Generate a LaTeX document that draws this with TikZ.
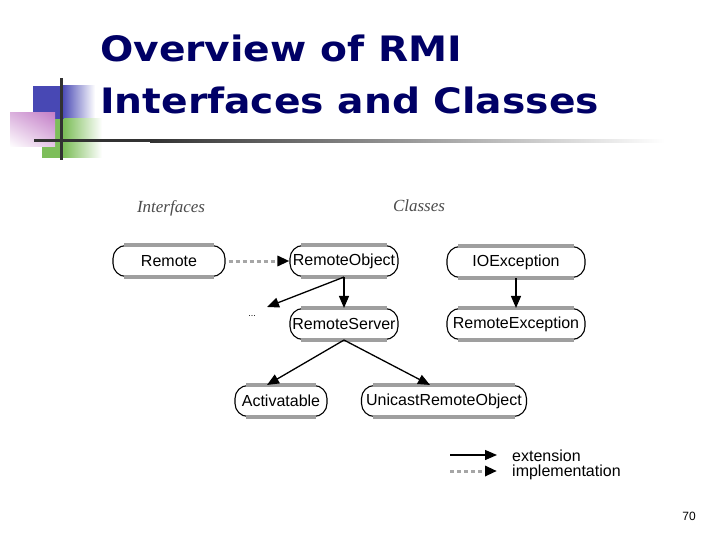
\documentclass[tikz,border=0pt]{standalone}
\usepackage{fontspec}
\setmainfont{Liberation Sans}
\newfontfamily\titlefont{DejaVu Sans}[FakeStretch=1.12]
\newfontfamily\serifit{Liberation Serif}
\usetikzlibrary{arrows.meta,shadings}
\definecolor{titleblue}{RGB}{0,0,102}
\definecolor{decoblue}{RGB}{72,72,180}
\definecolor{decogreen}{RGB}{125,190,90}
\definecolor{decopink}{RGB}{196,128,200}
\definecolor{decoline}{RGB}{50,50,50}
\tikzset{
  classbox/.style={draw=black, line width=1.1pt, rounded corners=13pt, minimum height=31pt,
    inner sep=0pt, font=\fontsize{16}{18}\selectfont},
  graybar/.style={draw=gray!75, line width=3.5pt},
  ext/.style={draw=black, line width=1.3pt, -{Triangle[length=12pt,width=10pt]}},
  impl/.style={draw=gray!70, line width=3pt, dash pattern=on 4pt off 3pt,
    -{Triangle[length=12pt,width=10pt,fill=black,color=black]}},
  headtext/.style={text=black!70, font=\serifit\itshape\fontsize{17}{19}\selectfont},
  legtext/.style={anchor=west, inner sep=0pt, font=\fontsize{16}{18}\selectfont},
  titletext/.style={anchor=base west, inner sep=0pt, text=titleblue,
    font=\titlefont\bfseries\fontsize{35}{40}\selectfont}
}
\begin{document}
\begin{tikzpicture}[x=1pt,y=-1pt]
\useasboundingbox[fill=white] (0,0) rectangle (720,540);
% decoration
\fill[decoblue] (33,86) rectangle (62,119);
\shade[left color=decoblue, right color=white] (62,86) rectangle (95,119);
\fill[decogreen] (42,119) rectangle (64,158);
\shade[left color=decogreen, right color=white] (64,119) rectangle (102,158);
\shade[upper right=decopink, upper left=decopink!60!white, lower right=decopink!45!white, lower left=white] (10,113) rectangle (55,147);
\fill[decoline] (59.5,78) rectangle (62.5,160);
\fill[decoline] (34,139.5) rectangle (150,142.5);
\shade[left color=decoline, right color=white] (150,139.5) rectangle (665,142.5);
% title
\node[titletext] (t1) at (100,62) {Overview of RMI};
\node[titletext] (t2) at (100,114) {Interfaces and Classes};
% headings
\node[headtext] (hint) at (171,208) {Interfaces};
\node[headtext] (hcls) at (419,206) {Classes};
% boxes
\node[classbox, minimum width=112pt] (remote) at (169,261) {Remote};
\node[classbox, minimum width=108pt] (ro) at (344,261) {RemoteObject};
\node[classbox, minimum width=138pt] (ioe) at (516,262) {IOException};
\node[classbox, minimum width=108pt] (rs) at (344,324) {RemoteServer};
\node[classbox, minimum width=138pt] (rex) at (516,324) {RemoteException};
\node[classbox, minimum width=92pt] (act) at (281,401) {Activatable};
\node[classbox, minimum width=165pt] (uro) at (444,401) {UnicastRemoteObject};
\foreach \n in {remote,ro,ioe,rs,rex,act,uro}{
  \draw[graybar] ([xshift=12pt]\n.north west) -- ([xshift=-12pt]\n.north east);
  \draw[graybar] ([xshift=12pt]\n.south west) -- ([xshift=-12pt]\n.south east);
}
\node[font=\fontsize{9}{10}\selectfont] (dots) at (252,316) {...};
\coordinate (dotsend) at (267,307);
% connectors
\draw[impl] ([xshift=3pt]remote.east) -- (ro.west);
\draw[ext] (ro.south) -- (rs.north);
\draw[ext] (ro.south) -- (dotsend);
\draw[ext] (ioe.south) -- (rex.north);
\draw[ext] (rs.south) -- ([xshift=-14pt]act.north);
\draw[ext] (rs.south) -- ([xshift=-14pt]uro.north);
% legend
\coordinate (l1a) at (450,455);
\coordinate (l1b) at (497,455);
\coordinate (l2a) at (450,471);
\coordinate (l2b) at (497,471);
\draw[ext] (l1a) -- (l1b);
\draw[impl] (l2a) -- (l2b);
\node[legtext] (lext) at (512,456) {extension};
\node[legtext] (limp) at (512,472) {implementation};
% page number
\node[font=\fontsize{12}{14}\selectfont] (pg) at (689,516) {70};
\end{tikzpicture}
\end{document}
